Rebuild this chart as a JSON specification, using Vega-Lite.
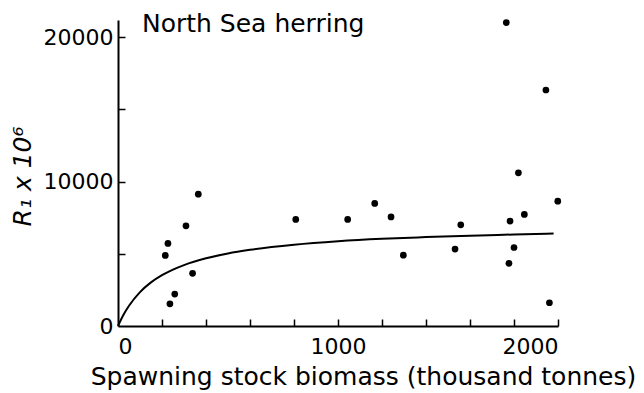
{
  "$schema": "https://vega.github.io/schema/vega-lite/v6.json",
  "width": 440,
  "height": 306,
  "autosize": {"type": "none"},
  "padding": {"left": 118, "top": 20, "right": 86, "bottom": 67},
  "background": "white",
  "title": {"text": "North Sea herring", "anchor": "start", "frame": "group", "dx": 24, "dy": 18, "offset": 0, "fontSize": 25, "font": "DejaVu Sans", "fontWeight": "normal", "color": "black"},
  "config": {
    "view": {"stroke": null},
    "axis": {"grid": false, "domainColor": "black", "domainWidth": 2, "tickColor": "black", "tickWidth": 1.5, "labelColor": "black", "titleColor": "black", "labelFont": "DejaVu Sans", "titleFont": "DejaVu Sans", "labelFontSize": 22, "titleFontSize": 25, "titleFontWeight": "normal"}
  },
  "datasets": {
    "points": [
      {"ssb": 365, "r": 9135}, {"ssb": 309, "r": 6940}, {"ssb": 227, "r": 5720}, {"ssb": 215, "r": 4890},
      {"ssb": 339, "r": 3650}, {"ssb": 258, "r": 2210}, {"ssb": 236, "r": 1540}, {"ssb": 808, "r": 7380},
      {"ssb": 1044, "r": 7380}, {"ssb": 1167, "r": 8490}, {"ssb": 1241, "r": 7560}, {"ssb": 1297, "r": 4910},
      {"ssb": 1558, "r": 7010}, {"ssb": 1532, "r": 5330}, {"ssb": 1782, "r": 7270}, {"ssb": 1847, "r": 7730},
      {"ssb": 1800, "r": 5440}, {"ssb": 1777, "r": 4340}, {"ssb": 1999, "r": 8650}, {"ssb": 1961, "r": 1610},
      {"ssb": 1765, "r": 21020}, {"ssb": 1945, "r": 16350}, {"ssb": 1820, "r": 10610}
    ],
    "curve": [
      {"ssb": 0, "r": 0}, {"ssb": 25, "r": 780}, {"ssb": 50, "r": 1400}, {"ssb": 100, "r": 2350},
      {"ssb": 150, "r": 3020}, {"ssb": 200, "r": 3520}, {"ssb": 250, "r": 3910}, {"ssb": 300, "r": 4220},
      {"ssb": 400, "r": 4690}, {"ssb": 500, "r": 5030}, {"ssb": 600, "r": 5280}, {"ssb": 800, "r": 5630},
      {"ssb": 1000, "r": 5870}, {"ssb": 1200, "r": 6040}, {"ssb": 1400, "r": 6160}, {"ssb": 1600, "r": 6260},
      {"ssb": 1800, "r": 6340}, {"ssb": 1980, "r": 6410}
    ]
  },
  "layer": [
    {
      "data": {"name": "curve"},
      "mark": {"type": "line", "color": "black", "strokeWidth": 2, "interpolate": "monotone"},
      "encoding": {
        "x": {"field": "ssb", "type": "quantitative", "scale": {"domain": [0, 2000], "nice": false},
          "axis": {"orient": "bottom", "title": "Spawning stock biomass (thousand tonnes)", "values": [0, 1000, 2000], "format": "d", "ticks": false, "labelPadding": 10, "titlePadding": 7, "titleX": 245}},
        "y": {"field": "r", "type": "quantitative", "scale": {"domain": [0, 21200], "nice": false},
          "axis": {"orient": "left", "title": "R₁ x 10⁶", "titleFontStyle": "italic", "values": [0, 10000, 20000], "format": "d", "ticks": false, "labelPadding": 5, "titlePadding": 8, "titleY": 156}}
      }
    },
    {
      "data": {"name": "points"},
      "mark": {"type": "circle", "color": "black", "opacity": 1, "size": 45},
      "encoding": {
        "x": {"field": "ssb", "type": "quantitative",
          "axis": {"orient": "top", "offset": -306, "domain": false, "labels": false, "title": null, "values": [200, 400, 600, 800, 1000, 1200, 1400, 1600, 1800, 2000], "tickSize": 7}},
        "y": {"field": "r", "type": "quantitative",
          "axis": {"orient": "right", "offset": -440, "domain": false, "labels": false, "title": null, "values": [5000, 10000, 15000, 20000], "tickSize": 7}}
      }
    }
  ]
}
